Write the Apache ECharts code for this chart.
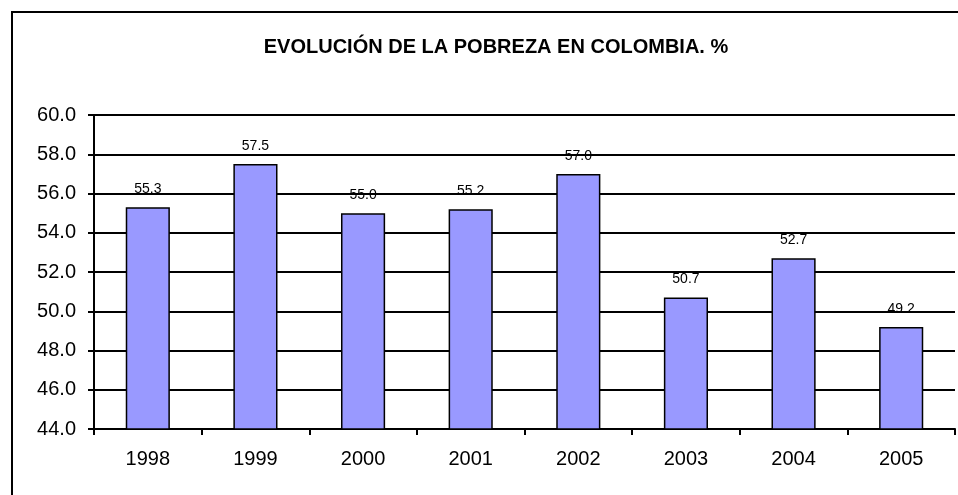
<!DOCTYPE html>
<html>
<head>
<meta charset="utf-8">
<script src="https://cdn.jsdelivr.net/npm/echarts@6/dist/echarts.min.js"></script>
<style>html,body{margin:0;padding:0;background:#fff;}#c{width:958px;height:495px;}</style>
</head>
<body>
<div id="c"></div>
<script>
const titleText = 'EVOLUCIÓN DE LA POBREZA EN COLOMBIA. %';
const categories = ['1998','1999','2000','2001','2002','2003','2004','2005'];
const povertyValues = [55.3, 57.5, 55.0, 55.2, 57.0, 50.7, 52.7, 49.2];
const yMin = 44, yMax = 60, yStep = 2;

const chart = echarts.init(document.getElementById('c'));
const font = '"Liberation Sans", Arial, sans-serif';
chart.setOption({
  animation: false,
  backgroundColor: '#fff',
  title: {
    text: titleText,
    left: 491, top: 32, textAlign: 'center',
    textStyle: { fontFamily: font, fontSize: 20, fontWeight: 'bold', color: '#000' }
  },
  graphic: [{
    type: 'rect', shape: { x: 12, y: 12, width: 960, height: 500 },
    style: { fill: 'none', stroke: '#000', lineWidth: 2 }, silent: true
  }],
  grid: { left: 94, right: 3, top: 115, bottom: 66 },
  xAxis: {
    type: 'category', data: categories,
    axisLine: { lineStyle: { color: '#000', width: 2 } },
    axisTick: { show: true, length: 6, lineStyle: { color: '#000', width: 2 } },
    axisLabel: { fontFamily: font, fontSize: 20, color: '#000', margin: 20 }
  },
  yAxis: {
    type: 'value', min: yMin, max: yMax, interval: yStep,
    axisLine: { show: true, lineStyle: { color: '#000', width: 2 } },
    axisTick: { show: true, length: 6, lineStyle: { color: '#000', width: 2 } },
    splitLine: { show: true, lineStyle: { color: '#000', width: 2 } },
    axisLabel: { fontFamily: font, fontSize: 20, color: '#000', margin: 18,
      formatter: v => v.toFixed(1) }
  },
  series: [{
    type: 'bar', data: povertyValues, barWidth: '41%',
    itemStyle: { color: '#9999FF', borderColor: '#000', borderWidth: 1.5 },
    label: { show: true, position: 'top', distance: 11, fontFamily: font, fontSize: 14, color: '#000',
      formatter: p => p.value.toFixed(1) }
  }]
});
</script>
</body>
</html>
